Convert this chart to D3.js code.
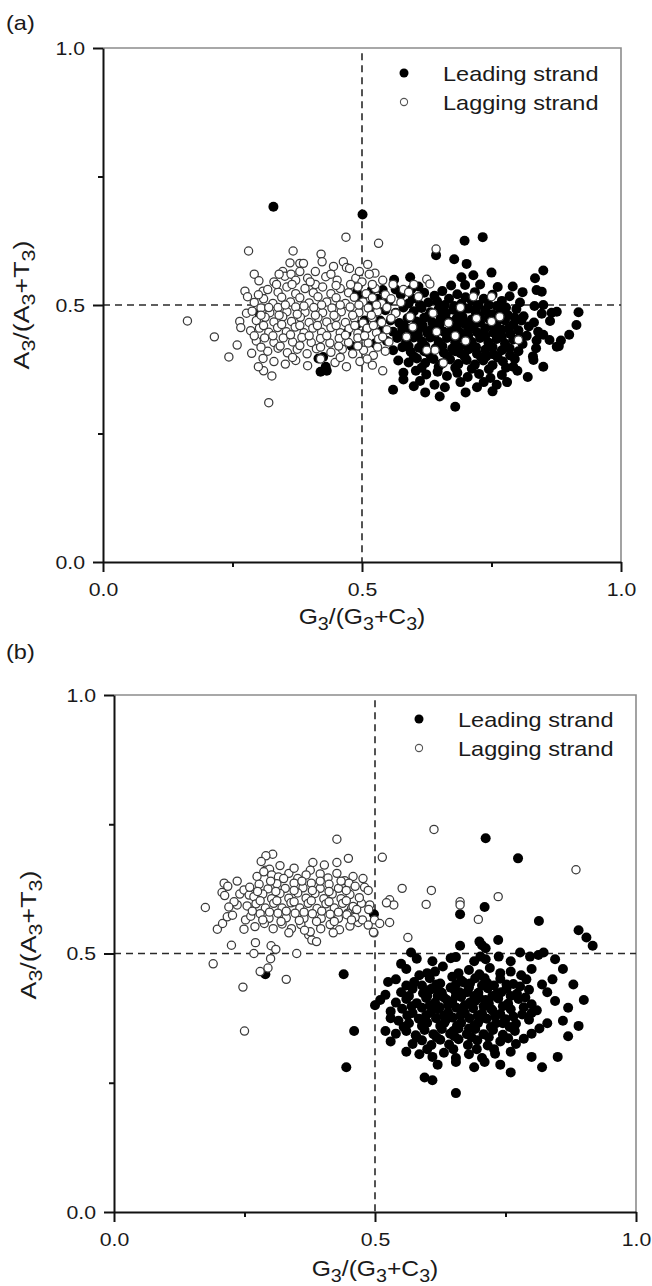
<!DOCTYPE html>
<html>
<head>
<meta charset="utf-8">
<script src="https://cdn.jsdelivr.net/npm/d3@7"></script>
<style>
  body { margin: 0; background: #fff; }
  text { font-family: "Liberation Sans", Arial, sans-serif; fill: #1a1a1a; }
</style>
</head>
<body>
<svg id="chart" width="652" height="1286"></svg>
<script>
// values: [G3/(G3+C3), A3/(A3+T3)]
const leadingA = [
  [0.329,0.691],[0.501,0.676],[0.733,0.632],[0.698,0.625],[0.643,0.597],[0.678,0.589],[0.702,0.580],
  [0.850,0.567],[0.750,0.563],[0.715,0.558],[0.834,0.552],[0.692,0.554],[0.593,0.554],[0.562,0.549],
  [0.699,0.539],[0.791,0.536],[0.609,0.536],[0.519,0.529],[0.540,0.529],[0.837,0.529],[0.847,0.526],
  [0.575,0.520],[0.598,0.512],[0.620,0.524],[0.640,0.518],[0.655,0.527],[0.668,0.512],[0.684,0.521],
  [0.700,0.515],[0.718,0.525],[0.735,0.512],[0.752,0.520],[0.770,0.508],[0.785,0.517],[0.805,0.505],
  [0.552,0.508],[0.590,0.503],[0.628,0.505],[0.660,0.500],[0.692,0.503],[0.725,0.500],[0.760,0.498],
  [0.530,0.512],[0.515,0.498],
  [0.850,0.500],[0.847,0.483],[0.833,0.498],[0.866,0.485],[0.876,0.487],[0.863,0.469],[0.918,0.486],
  [0.914,0.461],[0.832,0.466],[0.840,0.448],[0.850,0.442],[0.884,0.431],[0.876,0.419],[0.837,0.431],
  [0.836,0.416],[0.831,0.393],
  [0.545,0.490],[0.565,0.485],[0.580,0.495],[0.600,0.488],[0.615,0.494],[0.632,0.486],[0.648,0.492],
  [0.662,0.484],[0.676,0.491],[0.690,0.486],[0.705,0.493],[0.720,0.484],[0.738,0.490],[0.752,0.482],
  [0.768,0.489],[0.782,0.480],[0.798,0.492],[0.812,0.478],[0.520,0.482],[0.505,0.470],
  [0.555,0.470],[0.572,0.465],[0.588,0.474],[0.605,0.468],[0.620,0.475],[0.636,0.466],[0.652,0.474],
  [0.668,0.468],[0.683,0.474],[0.698,0.465],[0.712,0.472],[0.728,0.466],[0.744,0.474],[0.760,0.466],
  [0.776,0.470],[0.792,0.462],[0.808,0.470],[0.822,0.458],
  [0.540,0.452],[0.560,0.448],[0.578,0.455],[0.594,0.447],[0.610,0.454],[0.626,0.446],[0.642,0.456],
  [0.658,0.448],[0.674,0.455],[0.690,0.446],[0.706,0.454],[0.722,0.447],[0.738,0.455],[0.754,0.446],
  [0.770,0.452],[0.786,0.444],[0.802,0.451],[0.818,0.440],
  [0.548,0.430],[0.568,0.436],[0.585,0.428],[0.600,0.437],[0.616,0.429],[0.632,0.437],[0.648,0.428],
  [0.664,0.436],[0.680,0.427],[0.696,0.435],[0.712,0.428],[0.728,0.436],[0.744,0.427],[0.760,0.434],
  [0.776,0.425],[0.792,0.433],[0.810,0.424],
  [0.560,0.412],[0.578,0.418],[0.594,0.409],[0.610,0.417],[0.626,0.408],[0.642,0.416],[0.658,0.407],
  [0.674,0.415],[0.690,0.406],[0.706,0.414],[0.722,0.405],[0.738,0.413],[0.754,0.404],[0.770,0.412],
  [0.786,0.402],[0.802,0.410],
  [0.570,0.392],[0.590,0.388],[0.606,0.396],[0.622,0.387],[0.638,0.395],[0.654,0.386],[0.670,0.394],
  [0.686,0.385],[0.702,0.393],[0.718,0.384],[0.734,0.392],[0.752,0.383],[0.772,0.390],[0.792,0.380],
  [0.580,0.368],[0.604,0.372],[0.624,0.365],[0.646,0.370],[0.664,0.362],[0.684,0.368],[0.704,0.360],
  [0.726,0.366],[0.748,0.358],[0.770,0.364],[0.800,0.372],[0.850,0.380],[0.830,0.400],[0.880,0.420],
  [0.862,0.432],[0.900,0.442],
  [0.560,0.335],[0.600,0.342],[0.622,0.330],[0.650,0.322],[0.680,0.302],[0.700,0.330],[0.722,0.340],
  [0.752,0.332],[0.780,0.350],[0.640,0.345],[0.660,0.340],[0.580,0.355],[0.416,0.396],[0.425,0.399],
  [0.430,0.380],[0.420,0.370],[0.432,0.372],[0.302,0.484],[0.470,0.445],[0.490,0.462],[0.480,0.420],
  [0.500,0.440],[0.510,0.455],[0.525,0.425],[0.535,0.470],[0.500,0.510],[0.490,0.525],
  [0.612,0.500],[0.645,0.507],[0.678,0.498],[0.712,0.508],[0.745,0.500],[0.778,0.495],
  [0.595,0.480],[0.626,0.477],[0.660,0.478],[0.694,0.477],[0.728,0.478],[0.762,0.477],[0.795,0.475],
  [0.582,0.458],[0.617,0.460],[0.650,0.462],[0.684,0.460],[0.716,0.460],[0.750,0.460],[0.784,0.455],
  [0.575,0.443],[0.608,0.440],[0.640,0.441],[0.672,0.440],[0.705,0.440],[0.738,0.440],[0.770,0.438],
  [0.805,0.438],[0.590,0.420],[0.622,0.420],[0.655,0.420],[0.688,0.418],[0.720,0.418],[0.752,0.418],
  [0.785,0.416],[0.600,0.400],[0.632,0.402],[0.665,0.400],[0.698,0.400],[0.730,0.398],[0.762,0.398],
  [0.795,0.395],[0.615,0.378],[0.648,0.380],[0.680,0.378],[0.712,0.376],[0.745,0.375],[0.778,0.378],
  [0.612,0.352],[0.690,0.350],[0.735,0.350],[0.760,0.345],[0.820,0.360],[0.595,0.530],[0.672,0.538],
  [0.728,0.540],[0.762,0.535],[0.810,0.525],[0.565,0.530],
  [0.633,0.452],[0.665,0.442],[0.700,0.462],[0.735,0.445],[0.655,0.488],[0.690,0.470],[0.720,0.492],
  [0.760,0.450],[0.620,0.410],[0.680,0.410],[0.740,0.400],[0.700,0.425]
];

const laggingA = [
  [0.469,0.632],[0.532,0.620],[0.281,0.605],[0.367,0.605],[0.421,0.599],[0.643,0.609],[0.361,0.582],
  [0.380,0.581],[0.387,0.581],[0.423,0.584],[0.464,0.584],[0.470,0.573],[0.476,0.571],[0.445,0.575],
  [0.511,0.579],[0.525,0.562],[0.514,0.560],[0.292,0.560],[0.301,0.547],[0.347,0.565],[0.351,0.556],
  [0.363,0.560],[0.274,0.527],[0.279,0.516],[0.309,0.527],[0.163,0.469],[0.215,0.438],[0.259,0.422],
  [0.243,0.399],[0.287,0.406],[0.309,0.396],[0.264,0.468],[0.266,0.456],[0.277,0.484],[0.320,0.310],
  [0.310,0.372],[0.326,0.362],[0.300,0.380],
  [0.330,0.545],[0.372,0.548],[0.395,0.552],[0.410,0.540],[0.430,0.555],[0.452,0.548],[0.488,0.552],
  [0.500,0.545],[0.540,0.548],[0.560,0.540],
  [0.318,0.530],[0.338,0.525],[0.355,0.535],[0.372,0.522],[0.390,0.532],[0.406,0.524],[0.424,0.535],
  [0.440,0.522],[0.458,0.532],[0.474,0.524],[0.492,0.535],[0.508,0.522],[0.526,0.532],[0.545,0.520],
  [0.580,0.530],[0.600,0.540],
  [0.292,0.505],[0.310,0.512],[0.328,0.503],[0.345,0.515],[0.362,0.506],[0.380,0.514],[0.398,0.504],
  [0.415,0.516],[0.432,0.506],[0.450,0.514],[0.468,0.503],[0.485,0.515],[0.502,0.506],[0.520,0.514],
  [0.538,0.503],[0.556,0.512],
  [0.288,0.488],[0.305,0.494],[0.322,0.485],[0.338,0.495],[0.355,0.487],[0.372,0.496],[0.390,0.486],
  [0.407,0.495],[0.424,0.485],[0.442,0.494],[0.460,0.487],[0.477,0.496],[0.494,0.485],[0.512,0.494],
  [0.530,0.487],[0.548,0.495],[0.565,0.484],
  [0.296,0.470],[0.313,0.476],[0.330,0.467],[0.347,0.477],[0.364,0.468],[0.381,0.476],[0.398,0.466],
  [0.415,0.475],[0.432,0.467],[0.450,0.476],[0.468,0.466],[0.485,0.474],[0.502,0.465],[0.520,0.475],
  [0.538,0.466],[0.556,0.474],
  [0.285,0.450],[0.302,0.455],[0.320,0.447],[0.337,0.456],[0.354,0.448],[0.371,0.457],[0.388,0.446],
  [0.405,0.455],[0.422,0.447],[0.440,0.456],[0.458,0.446],[0.475,0.454],[0.492,0.445],[0.510,0.455],
  [0.528,0.446],[0.548,0.452],
  [0.296,0.430],[0.312,0.436],[0.330,0.427],[0.348,0.436],[0.366,0.428],[0.384,0.437],[0.402,0.427],
  [0.420,0.435],[0.438,0.426],[0.456,0.435],[0.474,0.427],[0.492,0.436],[0.512,0.426],[0.532,0.434],
  [0.552,0.428],
  [0.318,0.410],[0.338,0.416],[0.356,0.407],[0.375,0.414],[0.394,0.405],[0.412,0.415],[0.440,0.408],
  [0.462,0.414],[0.482,0.405],[0.503,0.412],[0.522,0.402],[0.545,0.410],
  [0.330,0.390],[0.352,0.385],[0.372,0.392],[0.395,0.382],[0.448,0.388],[0.470,0.380],[0.496,0.390],
  [0.520,0.383],[0.540,0.372],
  [0.300,0.520],[0.335,0.540],[0.365,0.540],[0.400,0.545],[0.450,0.538],[0.478,0.540],[0.520,0.540],
  [0.320,0.495],[0.352,0.500],[0.388,0.498],[0.422,0.500],[0.458,0.500],[0.494,0.500],[0.528,0.500],
  [0.305,0.480],[0.340,0.480],[0.375,0.482],[0.410,0.480],[0.446,0.480],[0.482,0.480],[0.518,0.480],
  [0.310,0.460],[0.345,0.462],[0.380,0.460],[0.414,0.460],[0.450,0.460],[0.486,0.460],[0.522,0.460],
  [0.292,0.440],[0.328,0.440],[0.362,0.442],[0.398,0.440],[0.432,0.440],[0.468,0.441],[0.505,0.440],
  [0.540,0.438],[0.305,0.418],[0.342,0.420],[0.380,0.421],[0.420,0.418],[0.455,0.420],[0.492,0.420],
  [0.530,0.418],[0.366,0.398],[0.420,0.395],[0.458,0.398],[0.510,0.395],[0.340,0.560],[0.380,0.565],
  [0.410,0.565],[0.440,0.560],[0.495,0.565],
  [0.593,0.477],[0.598,0.457],[0.637,0.484],[0.644,0.448],[0.667,0.465],[0.680,0.440],[0.721,0.474],
  [0.750,0.468],[0.766,0.477],[0.715,0.516],[0.750,0.516],[0.641,0.412],[0.609,0.516],[0.586,0.438],
  [0.625,0.412],[0.802,0.432],[0.657,0.387],[0.625,0.550],[0.631,0.541],[0.575,0.505],[0.590,0.525],
  [0.690,0.495],[0.700,0.430]
];

const leadingB = [
  [0.712,0.723],[0.774,0.684],[0.710,0.590],[0.663,0.576],[0.814,0.563],[0.498,0.576],[0.663,0.515],
  [0.700,0.523],[0.705,0.516],[0.712,0.510],[0.736,0.526],[0.890,0.545],[0.905,0.531],[0.917,0.515],
  [0.569,0.502],[0.778,0.502],[0.797,0.494],[0.813,0.497],[0.823,0.502],[0.845,0.489],[0.702,0.494],
  [0.712,0.489],[0.737,0.494],[0.645,0.491],[0.655,0.493],
  [0.290,0.460],[0.440,0.460],[0.460,0.350],[0.445,0.280],[0.500,0.400],[0.510,0.410],[0.520,0.350],
  [0.530,0.375],[0.655,0.230],[0.595,0.260],[0.610,0.255],[0.760,0.270],[0.900,0.410],[0.890,0.360],
  [0.870,0.340],[0.860,0.370],[0.850,0.300],[0.800,0.300],[0.820,0.280],[0.880,0.440],[0.860,0.470],
  [0.840,0.450],
  [0.560,0.470],[0.600,0.462],[0.630,0.475],[0.680,0.468],[0.720,0.472],[0.760,0.465],[0.800,0.470],
  [0.540,0.450],[0.575,0.445],[0.605,0.452],[0.625,0.442],[0.648,0.455],[0.670,0.444],[0.692,0.452],
  [0.715,0.443],[0.740,0.451],[0.765,0.441],[0.790,0.450],[0.820,0.440],
  [0.550,0.425],[0.572,0.432],[0.592,0.423],[0.610,0.433],[0.628,0.424],[0.645,0.434],[0.662,0.425],
  [0.680,0.434],[0.698,0.424],[0.716,0.433],[0.734,0.423],[0.752,0.432],[0.772,0.422],[0.795,0.430],
  [0.830,0.425],
  [0.540,0.405],[0.560,0.412],[0.580,0.404],[0.598,0.414],[0.615,0.405],[0.632,0.415],[0.648,0.406],
  [0.665,0.416],[0.682,0.405],[0.700,0.414],[0.718,0.404],[0.736,0.413],[0.755,0.403],[0.775,0.412],
  [0.800,0.402],[0.845,0.408],
  [0.530,0.388],[0.552,0.393],[0.572,0.385],[0.590,0.395],[0.607,0.386],[0.624,0.396],[0.640,0.386],
  [0.656,0.395],[0.672,0.385],[0.688,0.394],[0.705,0.384],[0.722,0.393],[0.740,0.383],[0.760,0.392],
  [0.782,0.382],[0.810,0.390],[0.870,0.395],
  [0.545,0.370],[0.565,0.365],[0.584,0.374],[0.600,0.366],[0.617,0.375],[0.633,0.366],[0.649,0.376],
  [0.665,0.366],[0.681,0.375],[0.697,0.365],[0.714,0.374],[0.732,0.365],[0.750,0.373],[0.770,0.364],
  [0.795,0.372],[0.830,0.365],
  [0.540,0.345],[0.560,0.350],[0.578,0.342],[0.595,0.352],[0.612,0.344],[0.628,0.354],[0.644,0.345],
  [0.660,0.355],[0.676,0.344],[0.692,0.354],[0.708,0.344],[0.726,0.352],[0.745,0.343],[0.768,0.350],
  [0.800,0.345],
  [0.572,0.325],[0.590,0.332],[0.608,0.323],[0.625,0.333],[0.642,0.324],[0.660,0.334],[0.678,0.323],
  [0.696,0.332],[0.716,0.322],[0.740,0.330],[0.770,0.325],
  [0.585,0.305],[0.610,0.300],[0.632,0.308],[0.655,0.298],[0.680,0.305],[0.705,0.298],[0.730,0.306],
  [0.620,0.285],[0.690,0.280],[0.740,0.285],
  [0.585,0.458],[0.615,0.465],[0.660,0.462],[0.700,0.460],[0.740,0.462],[0.780,0.458],
  [0.560,0.438],[0.590,0.438],[0.618,0.440],[0.655,0.440],[0.682,0.442],[0.705,0.438],[0.728,0.438],
  [0.752,0.440],[0.778,0.436],[0.565,0.418],[0.600,0.418],[0.620,0.418],[0.655,0.418],[0.690,0.418],
  [0.725,0.418],[0.760,0.418],[0.788,0.415],[0.570,0.398],[0.605,0.400],[0.640,0.400],[0.672,0.400],
  [0.708,0.398],[0.745,0.398],[0.785,0.396],[0.562,0.380],[0.598,0.380],[0.632,0.380],[0.664,0.380],
  [0.697,0.380],[0.730,0.378],[0.765,0.378],[0.800,0.385],[0.555,0.358],[0.590,0.360],[0.625,0.360],
  [0.657,0.360],[0.690,0.360],[0.722,0.358],[0.758,0.358],[0.815,0.355],[0.580,0.338],[0.618,0.338],
  [0.652,0.340],[0.685,0.338],[0.718,0.338],[0.755,0.336],[0.785,0.335],[0.600,0.315],[0.650,0.315],
  [0.695,0.315],[0.728,0.315],[0.760,0.310],[0.655,0.290],[0.710,0.290],[0.560,0.310],[0.530,0.330],
  [0.520,0.420],[0.525,0.445],[0.550,0.480],[0.580,0.490],[0.610,0.485],[0.690,0.485],[0.760,0.485],
  [0.622,0.428],[0.638,0.410],[0.652,0.430],[0.668,0.390],[0.676,0.425],[0.692,0.408],[0.700,0.372],
  [0.712,0.410],[0.636,0.372],[0.650,0.350],[0.620,0.392],[0.680,0.355],[0.725,0.390],[0.742,0.425],
  [0.605,0.430],[0.590,0.372],[0.665,0.448],[0.710,0.452],[0.745,0.365]
];

const laggingB = [
  [0.613,0.740],[0.427,0.721],[0.514,0.686],[0.304,0.692],[0.291,0.689],[0.282,0.678],[0.290,0.661],
  [0.298,0.663],[0.302,0.652],[0.381,0.676],[0.376,0.661],[0.395,0.654],[0.403,0.671],[0.427,0.676],
  [0.449,0.684],[0.427,0.655],[0.458,0.649],[0.442,0.641],[0.450,0.636],[0.477,0.645],[0.480,0.628],
  [0.487,0.622],[0.274,0.649],[0.287,0.658],[0.211,0.636],[0.218,0.630],[0.236,0.640],[0.207,0.618],
  [0.212,0.612],[0.175,0.589],[0.198,0.547],[0.208,0.558],[0.217,0.571],[0.227,0.574],[0.225,0.516],
  [0.271,0.521],[0.301,0.515],[0.249,0.547],[0.252,0.565],[0.236,0.594],[0.241,0.615],[0.249,0.623],
  [0.259,0.613],[0.373,0.536],[0.379,0.526],[0.388,0.523],[0.376,0.542],[0.528,0.560],[0.498,0.540],
  [0.499,0.565],[0.509,0.558],[0.528,0.604],[0.536,0.594],[0.522,0.598],[0.552,0.626],[0.563,0.531],
  [0.598,0.595],[0.608,0.622],[0.474,0.597],[0.490,0.594],[0.455,0.587],[0.448,0.578],[0.458,0.591],
  [0.468,0.560],[0.476,0.565],[0.487,0.555],[0.885,0.662],[0.663,0.600],[0.663,0.594],[0.736,0.610],
  [0.698,0.566],[0.497,0.541],
  [0.190,0.480],[0.247,0.435],[0.250,0.350],[0.280,0.465],[0.295,0.472],[0.330,0.450],[0.310,0.508],
  [0.268,0.500],[0.300,0.490],[0.350,0.500],
  [0.315,0.648],[0.335,0.655],[0.352,0.645],[0.368,0.652],[0.410,0.646],[0.345,0.665],[0.318,0.670],
  [0.260,0.628],[0.278,0.634],[0.295,0.625],[0.312,0.635],[0.328,0.626],[0.345,0.636],[0.362,0.627],
  [0.378,0.636],[0.395,0.626],[0.412,0.634],[0.430,0.626],[0.462,0.630],
  [0.268,0.610],[0.285,0.615],[0.302,0.606],[0.318,0.616],[0.335,0.607],[0.352,0.617],[0.368,0.607],
  [0.385,0.616],[0.402,0.606],[0.418,0.615],[0.435,0.606],[0.452,0.614],[0.470,0.608],
  [0.255,0.592],[0.272,0.596],[0.290,0.588],[0.306,0.597],[0.322,0.588],[0.339,0.598],[0.356,0.588],
  [0.372,0.597],[0.389,0.587],[0.406,0.596],[0.422,0.588],[0.438,0.597],[0.488,0.585],
  [0.262,0.572],[0.280,0.577],[0.297,0.568],[0.314,0.578],[0.330,0.569],[0.347,0.578],[0.364,0.568],
  [0.380,0.577],[0.397,0.568],[0.414,0.576],[0.430,0.568],[0.446,0.575],[0.462,0.570],
  [0.270,0.552],[0.288,0.558],[0.305,0.548],[0.322,0.557],[0.340,0.548],[0.358,0.556],[0.396,0.548],
  [0.414,0.556],[0.432,0.546],[0.452,0.553],
  [0.300,0.640],[0.325,0.645],[0.360,0.640],[0.395,0.640],[0.435,0.640],[0.275,0.620],[0.310,0.620],
  [0.345,0.622],[0.380,0.622],[0.412,0.620],[0.445,0.622],[0.280,0.602],[0.312,0.602],[0.345,0.600],
  [0.378,0.602],[0.412,0.600],[0.445,0.602],[0.265,0.582],[0.298,0.580],[0.330,0.582],[0.364,0.580],
  [0.398,0.582],[0.430,0.580],[0.465,0.585],[0.285,0.565],[0.320,0.562],[0.355,0.564],[0.388,0.562],
  [0.422,0.562],[0.455,0.565],[0.335,0.540],[0.365,0.545],[0.420,0.540],[0.230,0.600],[0.220,0.590]
];

const majorTicks = [0, 0.5, 1];
const minorTicks = [0.25, 0.75];
const seriesNames = ["Leading strand", "Lagging strand"];
const panelLabels = ["(a)", "(b)"];
const xTitle = [["G", 0], ["3", 1], ["/(G", 0], ["3", 1], ["+C", 0], ["3", 1], [")", 0]];
const yTitle = [["A", 0], ["3", 1], ["/(A", 0], ["3", 1], ["+T", 0], ["3", 1], [")", 0]];

const svg = d3.select("#chart");
const sx = 1.12; // the scanned figure's lettering is a little wide

function titleText(sel, parts, size) {
  sel.attr("font-size", size);
  parts.forEach(function (p, i) {
    const prev = i > 0 ? parts[i - 1][1] : 0;
    sel.append("tspan")
      .attr("font-size", p[1] ? size * 0.8 : size)
      .attr("dy", p[1] && !prev ? 6 : (!p[1] && prev ? -6 : 0))
      .text(p[0]);
  });
}

function drawPanel(p) {
  const x = d3.scaleLinear().domain([0, 1]).range([p.left, p.right]);
  const y = d3.scaleLinear().domain([0, 1]).range([p.bottom, p.top]);
  const g = svg.append("g");

  // top and right frame
  g.append("path")
    .attr("d", "M" + x(0) + "," + y(1) + "H" + x(1) + "V" + y(0))
    .attr("fill", "none")
    .attr("stroke", "#8c8c8c")
    .attr("stroke-width", 1.6);

  // reference lines at 0.5
  g.append("line")
    .attr("x1", x(0)).attr("x2", x(1))
    .attr("y1", y(0.5)).attr("y2", y(0.5))
    .attr("stroke", "#2a2a2a").attr("stroke-width", 1.6)
    .attr("stroke-dasharray", "7,5");
  g.append("line")
    .attr("x1", x(0.5)).attr("x2", x(0.5))
    .attr("y1", y(0.99)).attr("y2", y(0))
    .attr("stroke", "#2a2a2a").attr("stroke-width", 1.6)
    .attr("stroke-dasharray", "7,5");

  g.append("g").selectAll("circle")
    .data(p.leading)
    .join("circle")
    .attr("cx", d => x(d[0]))
    .attr("cy", d => y(d[1]))
    .attr("r", 5)
    .attr("fill", "#000");

  g.append("g").selectAll("circle")
    .data(p.lagging)
    .join("circle")
    .attr("cx", d => x(d[0]))
    .attr("cy", d => y(d[1]))
    .attr("r", 4.1)
    .attr("fill", "#fff")
    .attr("stroke", "#3a3a3a")
    .attr("stroke-width", 1.25);

  // axes: major ticks with labels, minor ticks without
  const xAxis = g.append("g").attr("transform", "translate(0," + y(0) + ")");
  xAxis.append("g").attr("class", "minor")
    .call(d3.axisBottom(x).tickValues(minorTicks).tickSize(5).tickSizeOuter(0).tickFormat(""));
  xAxis.append("g")
    .call(d3.axisBottom(x).tickValues(majorTicks).tickSize(10).tickSizeOuter(0)
      .tickPadding(11).tickFormat(d3.format(".1f")));

  const yAxis = g.append("g").attr("transform", "translate(" + x(0) + ",0)");
  yAxis.append("g").attr("class", "minor")
    .call(d3.axisLeft(y).tickValues(minorTicks).tickSize(5).tickSizeOuter(0).tickFormat(""));
  yAxis.append("g")
    .call(d3.axisLeft(y).tickValues(majorTicks).tickSize(10).tickSizeOuter(0)
      .tickPadding(6).tickFormat(d3.format(".1f")));

  g.selectAll(".domain, .tick line").attr("stroke", "#111").attr("stroke-width", 2);
  g.selectAll(".minor .domain").remove();
  g.selectAll(".tick text")
    .attr("font-family", null)
    .attr("font-size", 19)
    .attr("fill", "#1a1a1a")
    .attr("transform", "scale(" + sx + ",1)");

  // axis titles
  titleText(g.append("text")
    .attr("text-anchor", "middle")
    .attr("transform", "translate(" + x(0.5) + "," + p.xTitleY + ") scale(" + sx + ",1)"),
    xTitle, 22);
  titleText(g.append("text")
    .attr("text-anchor", "middle")
    .attr("transform", "translate(" + p.yTitleX + "," + p.yTitleY + ") rotate(-90) scale(1.22,1)"),
    yTitle, 22);

  // legend
  const lg = g.append("g");
  seriesNames.forEach(function (name, i) {
    const ly = p.legendY + i * 29;
    if (i === 0) {
      lg.append("circle").attr("cx", p.legendX).attr("cy", ly).attr("r", 4.5).attr("fill", "#000");
    } else {
      lg.append("circle").attr("cx", p.legendX).attr("cy", ly).attr("r", 3.6)
        .attr("fill", "#fff").attr("stroke", "#555").attr("stroke-width", 1.1);
    }
    lg.append("text")
      .attr("transform", "translate(" + (p.legendX + 39) + "," + (ly + 8) + ") scale(" + sx + ",1)")
      .attr("font-size", 21)
      .text(name);
  });

  svg.append("text")
    .attr("transform", "translate(6," + p.labelY + ") scale(" + sx + ",1)")
    .attr("font-size", 21)
    .text(p.label);
}

drawPanel({
  leading: leadingA, lagging: laggingA, label: panelLabels[0],
  left: 103, right: 621, top: 48, bottom: 562,
  xTitleY: 624, yTitleX: 29, yTitleY: 305,
  legendX: 404, legendY: 73, labelY: 30
});

drawPanel({
  leading: leadingB, lagging: laggingB, label: panelLabels[1],
  left: 114, right: 636, top: 695, bottom: 1212,
  xTitleY: 1276, yTitleX: 36, yTitleY: 935,
  legendX: 419, legendY: 719, labelY: 659
});
</script>
</body>
</html>
